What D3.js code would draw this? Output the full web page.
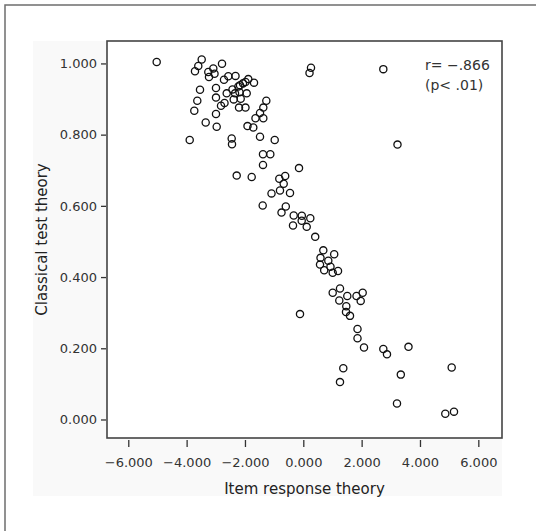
<!DOCTYPE html>
<html><head><meta charset="utf-8">
<script src="https://cdn.jsdelivr.net/npm/d3@7"></script>
<style>html,body{margin:0;padding:0;background:#fff}svg{display:block}</style>
</head><body>
<svg id="chart" width="536" height="531"></svg>
<script>
const irt = [-5.026,-3.483,-3.600,-3.713,-3.257,-3.085,-3.044,-3.233,-2.787,-2.719,-2.571,-2.324,-1.886,-1.982,-2.067,-2.170,-2.228,-1.690,-2.427,-2.187,-1.940,-2.626,-2.341,-3.541,-2.993,-3.634,-2.993,-2.386,-2.146,-2.701,-2.821,-2.204,-1.982,-1.268,-1.371,-3.737,-1.484,-2.993,-1.639,-1.371,-3.346,-2.969,-1.913,-1.714,-3.894,-2.455,-2.444,-1.484,-0.980,-1.382,-1.131,-1.382,-0.147,-2.283,-1.769,-0.823,-0.621,-0.672,-0.799,-1.090,-0.456,-1.392,-0.600,-0.747,-0.329,-0.051,0.240,-0.055,-0.353,0.117,0.408,0.686,1.059,0.590,0.857,0.573,0.932,0.716,1.008,1.190,1.258,1.008,1.508,1.824,2.036,1.968,1.234,1.474,1.464,1.601,-0.113,1.858,1.858,2.081,2.743,2.869,3.606,1.371,1.258,3.343,3.212,5.087,4.868,5.166,2.743,3.229,0.264,0.213];
const ctt = [1.004,1.011,0.993,0.978,0.976,0.986,0.971,0.962,0.999,0.954,0.964,0.965,0.956,0.948,0.944,0.939,0.935,0.946,0.927,0.919,0.916,0.916,0.916,0.926,0.931,0.895,0.904,0.899,0.901,0.889,0.881,0.876,0.876,0.895,0.876,0.867,0.861,0.858,0.846,0.846,0.834,0.822,0.824,0.820,0.785,0.789,0.773,0.794,0.785,0.745,0.745,0.715,0.706,0.685,0.681,0.676,0.684,0.662,0.643,0.635,0.636,0.601,0.598,0.581,0.573,0.572,0.565,0.558,0.545,0.541,0.513,0.475,0.464,0.454,0.446,0.435,0.429,0.419,0.412,0.417,0.368,0.356,0.347,0.347,0.356,0.333,0.334,0.318,0.302,0.291,0.296,0.254,0.228,0.202,0.198,0.183,0.204,0.144,0.105,0.126,0.045,0.146,0.016,0.022,0.984,0.772,0.988,0.973];
const xTicks = [-6,-4,-2,0,2,4,6];
const yTicks = [0,0.2,0.4,0.6,0.8,1.0];
const xTitle = "Item response theory";
const yTitle = "Classical test theory";
const annot = ["r= \u2212.866", "(p< .01)"];

const svg = d3.select("#chart");
const L = 107, R = 502, T = 41, B = 438;
const font = "'DejaVu Sans', 'Liberation Sans', sans-serif";

// outer frame
svg.append("rect").attr("x",5).attr("y",5).attr("width",600).attr("height",600)
  .attr("fill","#fff").attr("stroke","#6e6e6e").attr("stroke-width",1.5);
// light background panel
svg.append("rect").attr("x",33).attr("y",T).attr("width",R-33).attr("height",496-T)
  .attr("fill","#f9f9f9");

const x = d3.scaleLinear().domain([(L-303.3)/29.17, (R-303.3)/29.17]).range([L, R]);
const y = d3.scaleLinear().domain([-0.052, 1.063]).range([B, T]);

svg.append("rect").attr("x",L).attr("y",T).attr("width",R-L).attr("height",B-T)
  .attr("fill","#fff").attr("stroke","#444").attr("stroke-width",1.6);

const fmt = d3.format(".3f");
const gx = svg.append("g").attr("transform",`translate(0,${B+2})`)
  .call(d3.axisBottom(x).tickValues(xTicks).tickFormat(fmt).tickSize(7).tickPadding(11));
const gy = svg.append("g").attr("transform",`translate(${L-1},0)`)
  .call(d3.axisLeft(y).tickValues(yTicks).tickFormat(fmt).tickSize(5).tickPadding(4));
[gx,gy].forEach(g=>{
  g.select(".domain").remove();
  g.selectAll("line").attr("stroke","#333").attr("stroke-width",1.3);
  g.selectAll("text").attr("fill","#333").style("font-family",font).style("font-size","13px");
});

svg.append("text").attr("x",(L+R)/2).attr("y",494).attr("text-anchor","middle")
  .style("font-family",font).style("font-size","15px").attr("fill","#222").text(xTitle);
svg.append("text").attr("transform",`translate(47,${(T+B)/2}) rotate(-90)`).attr("text-anchor","middle")
  .style("font-family",font).style("font-size","15px").attr("fill","#222").text(yTitle);

annot.forEach((t,i)=>{
  svg.append("text").attr("x",425).attr("y",70+i*20)
    .style("font-family",font).style("font-size","14px").attr("fill","#333").text(t);
});

const pts = irt.map((v,i)=>({a:v,b:ctt[i]}));
svg.append("g").selectAll("circle").data(pts).join("circle")
  .attr("cx",d=>x(d.a)).attr("cy",d=>y(d.b)).attr("r",3.6)
  .attr("fill","none").attr("stroke","#111").attr("stroke-width",1.3);
</script>
</body></html>
